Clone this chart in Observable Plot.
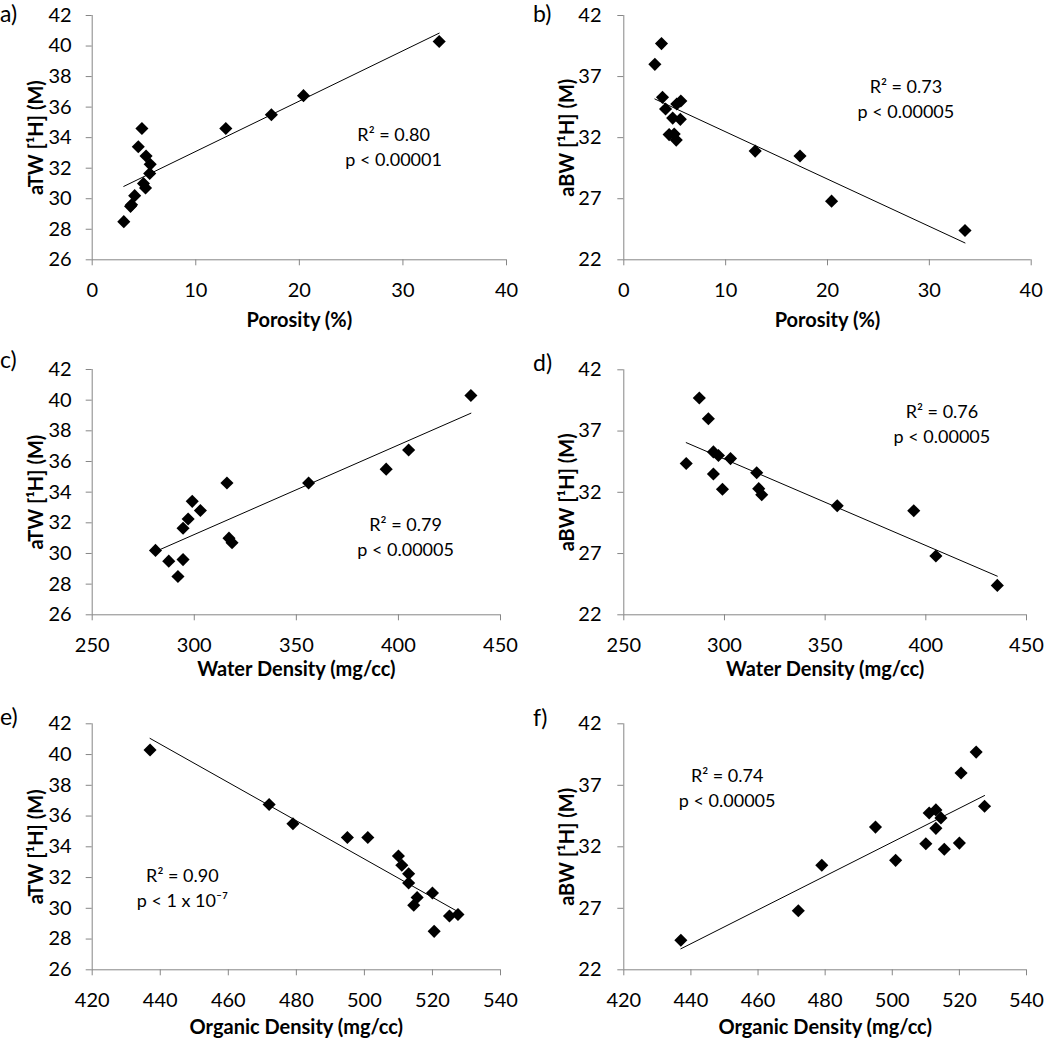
<!DOCTYPE html>
<html>
<head>
<meta charset="utf-8">
<script src="https://cdn.jsdelivr.net/npm/d3@7"></script>
<script src="https://cdn.jsdelivr.net/npm/@observablehq/plot@0.6"></script>
<style>
  html, body { margin: 0; padding: 0; background: #fff; }
  #root { position: relative; width: 1050px; height: 1042px; overflow: hidden; font-family: Lato, "Open Sans", sans-serif; }
  .panel { position: absolute; }
  .tag { position: absolute; font-family: Lato, sans-serif; font-size: 23px; line-height: 1.1; color: #000; }
</style>
</head>
<body>
<div id="root"></div>
<script>
// ---- Data (15 samples) ----
const porosity       = [33.5, 20.4, 17.3, 4.8, 12.9, 4.45, 5.2, 5.6, 5.55, 4.1, 5.15, 4.95, 3.05, 3.7, 3.8];
const waterDensity   = [435.5, 405, 394, 316, 356, 299, 303, 297, 294.5, 281, 318.5, 317, 292, 287.5, 294.5];
const organicDensity = [437, 472, 479, 495, 501, 510, 511, 513, 513, 514.5, 515.5, 520, 520.5, 525, 527.5];
const aTW            = [40.3, 36.75, 35.5, 34.6, 34.6, 33.4, 32.8, 32.25, 31.65, 30.2, 30.7, 31.0, 28.5, 29.5, 29.6];
const aBW            = [24.4, 26.8, 30.5, 33.6, 30.9, 32.25, 34.75, 35.0, 33.5, 34.35, 31.8, 32.3, 38.0, 39.7, 35.3];

// ---- Tick labels ----
const xTicksPorosity = [0, 10, 20, 30, 40];
const xTicksWater    = [250, 300, 350, 400, 450];
const xTicksOrganic  = [420, 440, 460, 480, 500, 520, 540];
const yTicksTW       = [26, 28, 30, 32, 34, 36, 38, 40, 42];
const yTicksBW       = [22, 27, 32, 37, 42];

// ---- Labels and statistics text ----
const panelTags  = ["a)", "b)", "c)", "d)", "e)", "f)"];
const xLabels    = ["Porosity (%)", "Porosity (%)", "Water Density (mg/cc)", "Water Density (mg/cc)", "Organic Density (mg/cc)", "Organic Density (mg/cc)"];
const yLabels    = ["aTW [¹H] (M)", "aBW [¹H] (M)", "aTW [¹H] (M)", "aBW [¹H] (M)", "aTW [¹H] (M)", "aBW [¹H] (M)"];
const r2Values   = ["0.80", "0.73", "0.79", "0.76", "0.90", "0.74"];
const pValues    = ["< 0.00001", "< 0.00005", "< 0.00005", "< 0.00005", "< 1 x 10⁻⁷", "< 0.00005"];

const xSeries = [porosity, porosity, waterDensity, waterDensity, organicDensity, organicDensity];
const ySeries = [aTW, aBW, aTW, aBW, aTW, aBW];
const xTickSets = [xTicksPorosity, xTicksPorosity, xTicksWater, xTicksWater, xTicksOrganic, xTicksOrganic];
const yTickSets = [yTicksTW, yTicksBW, yTicksTW, yTicksBW, yTicksTW, yTicksBW];

// ---- Layout (positions / sizes / styles) ----
const layout = [
  {left: 0,   top: 0,   width: 525, height: 335, mL: 91.7, mR: 19,   mT: 15,   mB: 75.7, tp: 14.5, xl: 60.3, ax: 29.1,  ay: 33.5, tagTop: 1,   tagLeft: 0},
  {left: 525, top: 0,   width: 525, height: 335, mL: 98.3, mR: 19.3, mT: 15,   mB: 75.7, tp: 16.3, xl: 60.3, ax: 27.7,  ay: 35.3, tagTop: 1,   tagLeft: 8},
  {left: 0,   top: 350, width: 525, height: 335, mL: 91.7, mR: 25,   mT: 19,   mB: 70.7, tp: 14.5, xl: 54.3, ax: 403.5, ay: 31.2, tagTop: 347, tagLeft: 0},
  {left: 525, top: 350, width: 525, height: 335, mL: 98.3, mR: 24,   mT: 19.3, mB: 70.7, tp: 16.3, xl: 54.3, ax: 408,   ay: 37.7, tagTop: 350, tagLeft: 8},
  {left: 0,   top: 700, width: 525, height: 342, mL: 91.7, mR: 25,   mT: 23.3, mB: 72.7, tp: 14.5, xl: 57.3, ax: 446.5, ay: 31.4, tagTop: 704, tagLeft: 0},
  {left: 525, top: 700, width: 525, height: 342, mL: 98.3, mR: 24,   mT: 23.3, mB: 72.7, tp: 16.3, xl: 57.3, ax: 450.8, ay: 36.9, tagTop: 705, tagLeft: 8}
];

const axisGray = "#868686";
const root = document.getElementById("root");

for (let i = 0; i < 6; i++) {
  const L = layout[i];
  const xs = xSeries[i], ys = ySeries[i];
  const data = xs.map((v, k) => ({x: v, y: ys[k]}));
  const xT = xTickSets[i], yT = yTickSets[i];
  const xDom = [d3.min(xT), d3.max(xT)];
  const yDom = [d3.min(yT), d3.max(yT)];

  const chart = Plot.plot({
    width: L.width,
    height: L.height,
    marginLeft: L.mL,
    marginRight: L.mR,
    marginTop: L.mT,
    marginBottom: L.mB,
    style: {fontFamily: "Lato, sans-serif", fontSize: "20px", color: "#000", background: "white", overflow: "visible"},
    x: {domain: xDom, ticks: xT, label: null},
    y: {domain: yDom, ticks: yT, label: null},
    marks: [
      Plot.axisX({ticks: xT, tickSize: 6, tickPadding: 17, stroke: axisGray, fill: "#000", label: null, fontSize: 20, tickFormat: d3.format("d")}),
      Plot.axisY({ticks: yT, tickSize: 6, tickPadding: L.tp, stroke: axisGray, fill: "#000", label: null, fontSize: 20, tickFormat: d3.format("d")}),
      Plot.ruleX([xDom[0]], {stroke: axisGray}),
      Plot.ruleY([yDom[0]], {stroke: axisGray}),
      Plot.linearRegressionY(data, {x: "x", y: "y", ci: 0, stroke: "#000", strokeWidth: 1}),
      Plot.dot(data, {x: "x", y: "y", symbol: "diamond2", r: 5.9, fill: "#000", stroke: "none"}),
      Plot.text([`R² = ${r2Values[i]}\np ${pValues[i]}`], {x: L.ax, y: L.ay, fontSize: 18, lineHeight: 1.39, fill: "#000"}),
      Plot.text([xLabels[i]], {frameAnchor: "bottom", lineAnchor: "middle", textAnchor: "middle", dy: L.xl, fontSize: 20, fontWeight: "bold", fill: "#000"}),
      Plot.text([yLabels[i]], {frameAnchor: "left", lineAnchor: "middle", textAnchor: "middle", dx: -56, rotate: -90, fontSize: 20, fontWeight: "bold", fill: "#000"})
    ]
  });
  const wrap = document.createElement("div");
  wrap.className = "panel";
  wrap.style.left = L.left + "px";
  wrap.style.top = L.top + "px";
  wrap.appendChild(chart);
  root.appendChild(wrap);

  const tag = document.createElement("div");
  tag.className = "tag";
  tag.textContent = panelTags[i];
  tag.style.left = (L.left + L.tagLeft) + "px";
  tag.style.top = L.tagTop + "px";
  root.appendChild(tag);
}
</script>
</body>
</html>
